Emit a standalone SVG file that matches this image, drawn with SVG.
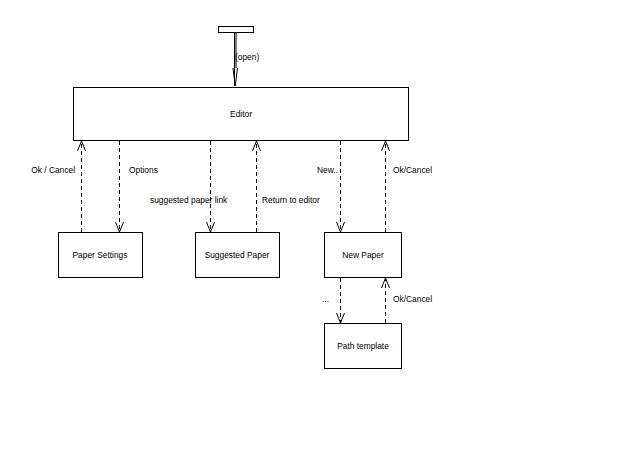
<svg xmlns="http://www.w3.org/2000/svg" width="640" height="452" viewBox="0 0 640 452">
<defs>
<style>
.box{fill:#fff;stroke:#000;stroke-width:1}
.t{font-family:"Liberation Sans",Arial,sans-serif;font-size:8.4px;fill:#000}
.c{text-anchor:middle}
.e{text-anchor:end}
.d{fill:none;stroke:#000;stroke-width:1;stroke-dasharray:4,3}
</style>
<marker id="open" markerWidth="12" markerHeight="10" refX="11" refY="4" orient="auto" markerUnits="userSpaceOnUse" viewBox="0 0 12 8">
<path d="M1,0 L11,4 L1,8" fill="none" stroke="#000" stroke-width="1"/>
</marker>
</defs>
<rect width="640" height="452" fill="#fff"/>
<g id="start"><rect class="box" x="218.5" y="26.5" width="35" height="6"/></g>
<g id="editor"><rect class="box" x="73.5" y="87.5" width="335" height="53"/><text class="t c" x="241" y="117">Editor</text></g>
<g id="paper-settings"><rect class="box" x="58.5" y="232.5" width="84" height="45"/><text class="t c" x="100" y="258">Paper Settings</text></g>
<g id="suggested-paper"><rect class="box" x="195.5" y="232.5" width="84" height="45"/><text class="t c" x="237" y="258">Suggested Paper</text></g>
<g id="new-paper"><rect class="box" x="324.5" y="232.5" width="77" height="45"/><text class="t c" x="363" y="258">New Paper</text></g>
<g id="path-template"><rect class="box" x="324.5" y="323.5" width="77" height="45"/><text class="t c" x="363" y="349">Path template</text></g>
<g id="connectors">
<line x1="234.5" y1="33" x2="234.5" y2="86" stroke="#000" stroke-width="1"/>
<line x1="236" y1="33" x2="236" y2="68" stroke="#000" stroke-width="1"/>
<path d="M233,68 L235.2,86 L237.5,68" fill="none" stroke="#000" stroke-width="1"/>
<text class="t" x="235" y="60">(open)</text>
<line class="d" x1="81.5" y1="232" x2="81.5" y2="141" marker-end="url(#open)"/>
<text class="t e" x="75" y="173">Ok / Cancel</text>
<line class="d" x1="119.5" y1="141" x2="119.5" y2="232" marker-end="url(#open)"/>
<text class="t" x="129" y="173">Options</text>
<line class="d" x1="210.5" y1="141" x2="210.5" y2="232" marker-end="url(#open)"/>
<text class="t" x="150" y="203">suggested paper link</text>
<line class="d" x1="256.5" y1="232" x2="256.5" y2="141" marker-end="url(#open)"/>
<text class="t" x="262" y="203">Return to editor</text>
<line class="d" x1="340.5" y1="141" x2="340.5" y2="232" marker-end="url(#open)"/>
<text class="t" x="317" y="173">New..</text>
<line class="d" x1="385.5" y1="232" x2="385.5" y2="141" marker-end="url(#open)"/>
<text class="t" x="393" y="173">Ok/Cancel</text>
<line class="d" x1="340.5" y1="278" x2="340.5" y2="323" marker-end="url(#open)"/>
<text class="t" x="322" y="302">...</text>
<line class="d" x1="385.5" y1="323" x2="385.5" y2="278" marker-end="url(#open)"/>
<text class="t" x="393" y="302">Ok/Cancel</text>
</g>
</svg>
